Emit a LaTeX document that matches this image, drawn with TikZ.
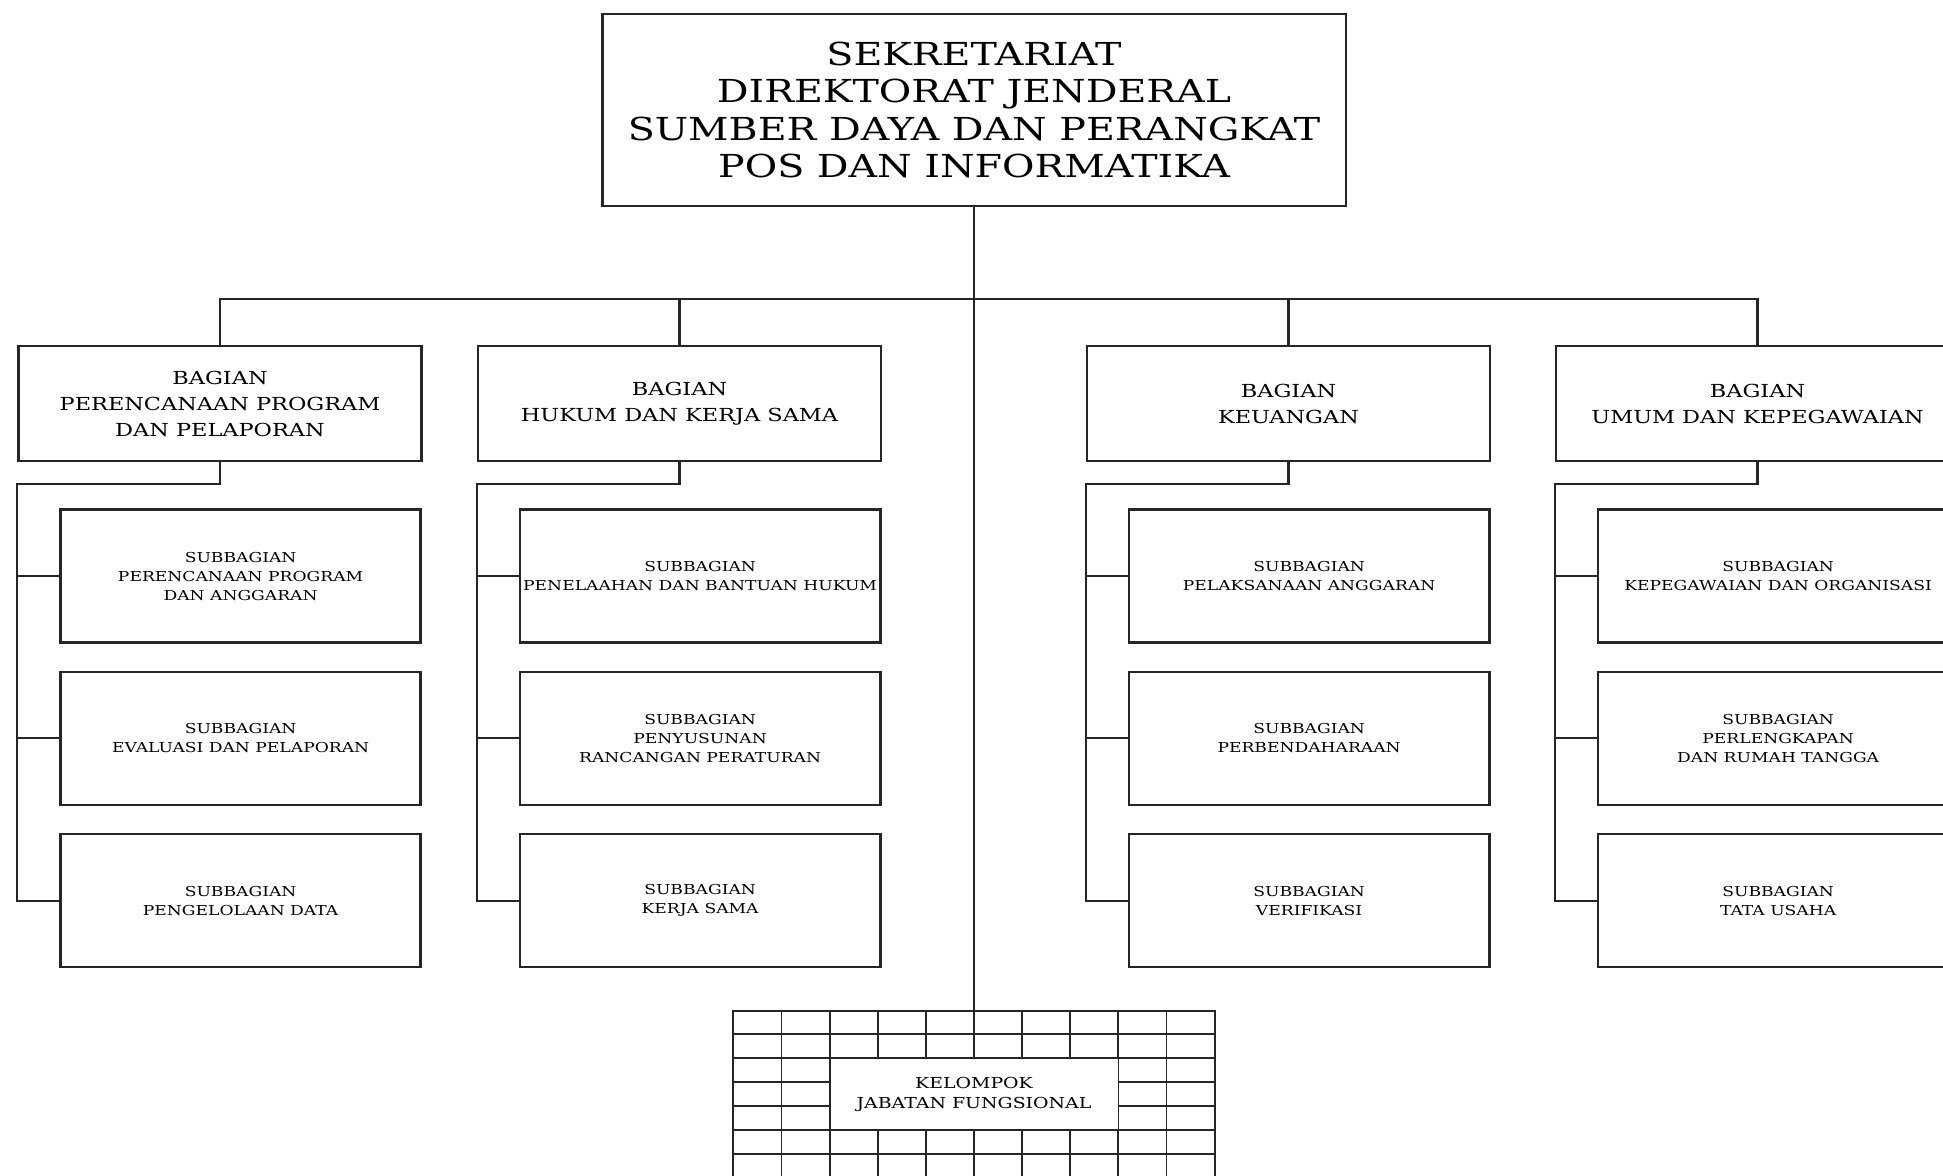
\documentclass[tikz,border=0pt]{standalone}
\usepackage{fontspec}
\setmainfont{DejaVu Serif}[FakeStretch=1.25]
\usepackage{tikz}
\usetikzlibrary{positioning}
\colorlet{boxline}{black!85}

\begin{document}
\begin{tikzpicture}[
x=0.01cm, y=-0.01cm,
TopBox/.style={draw=boxline,line width=0.7pt,minimum width=7.43cm,minimum height=1.92cm,
  align=center,inner sep=0pt,font=\fontsize{9}{10.7}\selectfont},
BagianBox/.style={draw=boxline,line width=0.7pt,minimum width=4.03cm,minimum height=1.15cm,
  align=center,inner sep=0pt,font=\fontsize{5.1}{7.4}\selectfont},
SubBox/.style={draw=boxline,line width=0.75pt,minimum width=3.6cm,minimum height=1.33cm,
  align=center,inner sep=0pt,font=\fontsize{3.9}{5.4}\selectfont},
Links/.style={draw=boxline,line width=0.6pt},
GridLines/.style={draw=boxline,line width=0.5pt}
]
\useasboundingbox (0,0) rectangle (1943,1175);
\clip (0,0) rectangle (1943,1175);

% kepala
\node[TopBox] (sek) at (974,110) {SEKRETARIAT\\DIREKTORAT JENDERAL\\SUMBER DAYA DAN PERANGKAT\\POS DAN INFORMATIKA};

% bagian
\node[BagianBox] (bpp) at (220,403.5) {BAGIAN\\PERENCANAAN PROGRAM\\DAN PELAPORAN};
\node[BagianBox] (bhk) at (679.5,403.5) {BAGIAN\\HUKUM DAN KERJA SAMA};
\node[BagianBox] (bku) at (1288.5,403.5) {BAGIAN\\KEUANGAN};
\node[BagianBox] (bup) at (1757.5,403.5) {BAGIAN\\UMUM DAN KEPEGAWAIAN};

% subbagian
\node[SubBox,below right=0.46cm and 0.42cm of bpp.south west] (spa) {SUBBAGIAN\\PERENCANAAN PROGRAM\\DAN ANGGARAN};
\node[SubBox,below=0.265cm of spa] (sep) {SUBBAGIAN\\EVALUASI DAN PELAPORAN};
\node[SubBox,below=0.265cm of sep] (spd) {SUBBAGIAN\\PENGELOLAAN DATA};

\node[SubBox,below right=0.46cm and 0.42cm of bhk.south west] (sbh) {SUBBAGIAN\\PENELAAHAN DAN BANTUAN HUKUM};
\node[SubBox,below=0.265cm of sbh] (srp) {SUBBAGIAN\\PENYUSUNAN\\RANCANGAN PERATURAN};
\node[SubBox,below=0.265cm of srp] (sks) {SUBBAGIAN\\KERJA SAMA};

\node[SubBox,below right=0.46cm and 0.42cm of bku.south west] (spl) {SUBBAGIAN\\PELAKSANAAN ANGGARAN};
\node[SubBox,below=0.265cm of spl] (spb) {SUBBAGIAN\\PERBENDAHARAAN};
\node[SubBox,below=0.265cm of spb] (svf) {SUBBAGIAN\\VERIFIKASI};

\node[SubBox,below right=0.46cm and 0.42cm of bup.south west] (sko) {SUBBAGIAN\\KEPEGAWAIAN DAN ORGANISASI};
\node[SubBox,below=0.265cm of sko] (srt) {SUBBAGIAN\\PERLENGKAPAN\\DAN RUMAH TANGGA};
\node[SubBox,below=0.265cm of srt] (stu) {SUBBAGIAN\\TATA USAHA};

% kelompok jabatan fungsional
\node[draw=boxline,line width=0.6pt,minimum width=4.81cm,minimum height=2.2cm,anchor=north] (kgrid) at (974,1010) {};
\foreach \i in {1,...,9}
  \draw[GridLines] ({733.5+48.1*\i},1010) -- ({733.5+48.1*\i},1230);
\foreach \j in {1,...,8}
  \draw[GridLines] (733.5,{1010+24*\j}) -- (1214.5,{1010+24*\j});
\node[draw=boxline,line width=0.5pt,fill=white,minimum width=2.886cm,minimum height=0.72cm,
  align=center,inner sep=0pt,font=\fontsize{4.3}{5.7}\selectfont] (kjf) at (974,1094)
  {KELOMPOK\\JABATAN FUNGSIONAL};

% garis
\coordinate (bus) at (974,299);
\draw[Links] (sek.south) -- (kgrid.north);
\draw[Links] (bpp.north) |- (bus) -| (bup.north);
\draw[Links] (bhk.north) -- (bhk.north |- bus);
\draw[Links] (bku.north) -- (bku.north |- bus);

\foreach \b/\s/\t/\u in {bpp/spa/sep/spd, bhk/sbh/srp/sks, bku/spl/spb/svf, bup/sko/srt/stu}{
  \draw[Links] (\b.south) -- ++(0,22) -| (\u.west -| \b.west) -- (\u.west);
  \draw[Links] (\s.west -| \b.west) -- (\s.west);
  \draw[Links] (\t.west -| \b.west) -- (\t.west);
}

\end{tikzpicture}
\end{document}
